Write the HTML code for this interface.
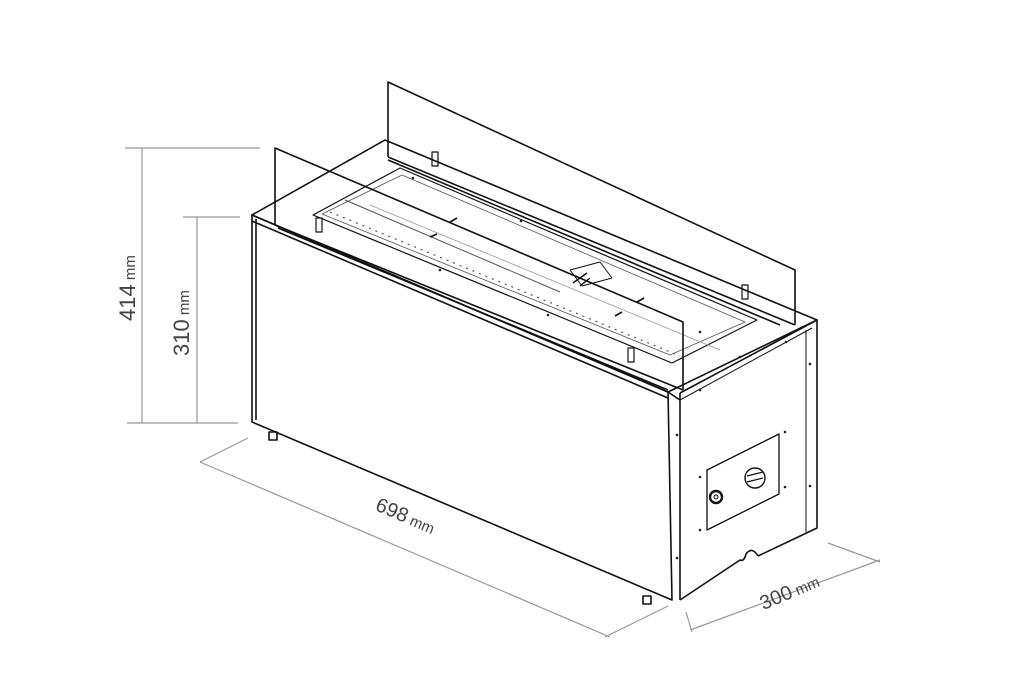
<!DOCTYPE html>
<html><head><style>
html,body{margin:0;padding:0;background:#fff;}
svg{display:block}
text{font-family:"Liberation Sans",sans-serif;fill:#444;}
</style></head><body>
<svg width="1024" height="700" viewBox="0 0 1024 700" xmlns="http://www.w3.org/2000/svg">
<g stroke="#999" stroke-width="1.2" fill="none">
<line x1="125" y1="148" x2="260" y2="148"/>
<line x1="127" y1="423" x2="238" y2="423"/>
<line x1="142" y1="148" x2="142" y2="423"/>
<line x1="183" y1="217" x2="240" y2="217"/>
<line x1="197" y1="217" x2="197" y2="423"/>
<line x1="200" y1="462" x2="248" y2="438"/>
<line x1="200" y1="462" x2="610" y2="637"/>
<line x1="605" y1="637" x2="668" y2="606"/>
<line x1="686" y1="612" x2="692" y2="632"/>
<line x1="690" y1="630" x2="880" y2="560"/>
<line x1="828" y1="543" x2="880" y2="562"/>
</g>
<text transform="translate(135,288) rotate(-90)" text-anchor="middle" font-size="22">414<tspan font-size="15"> mm</tspan></text>
<text transform="translate(189,323) rotate(-90)" text-anchor="middle" font-size="22">310<tspan font-size="15"> mm</tspan></text>
<text transform="translate(403,522) rotate(23)" text-anchor="middle" font-size="20">698<tspan font-size="15"> mm</tspan></text>
<text transform="translate(792,598) rotate(-23)" text-anchor="middle" font-size="20">300<tspan font-size="15"> mm</tspan></text>
<g stroke="#111" stroke-width="1.6" fill="none" stroke-linejoin="round">
<polyline points="388,157 388,82 795,270 795,325"/>
<line x1="388" y1="157" x2="795" y2="325"/>
<line x1="388" y1="160" x2="780" y2="325"/>
<polygon points="252,215 385,140 817,320 668,392"/>
<polygon points="252,215 668,392 672,600 252,422" />
<line x1="256" y1="219" x2="256" y2="420"/>
<line x1="252" y1="221" x2="668" y2="398"/>
<polyline points="680,393 817,320 817,528 758,556"/>
<path d="M758,556 q-6,-10 -12,-2 q-2,8 -6,6 L680,600"/>
<line x1="680" y1="393" x2="680" y2="600"/>
<line x1="806" y1="330" x2="806" y2="532" stroke-width="1"/>
<line x1="668" y1="392" x2="680" y2="400"/>
<line x1="680" y1="400" x2="812" y2="328" stroke-width="1"/>
<rect x="269" y="432" width="8" height="8"/>
<rect x="643" y="596" width="8" height="8"/>
<polygon points="313,215 400,168 757,320 672,363" stroke-width="1.2"/>
<polygon points="322,214 402,175 745,322 670,355" stroke-width="0.8" stroke="#555"/>
<line x1="330" y1="212" x2="680" y2="356" stroke-dasharray="2,5" stroke="#555" stroke-width="1.2"/>
<line x1="370" y1="205" x2="720" y2="350" stroke="#999" stroke-width="0.8"/>
<line x1="345" y1="200" x2="560" y2="292" stroke="#555" stroke-width="1"/>
<polygon points="570,270 600,262 612,278 582,286" stroke-width="1"/>
<path d="M573,283 l14,-10 M580,286 l10,-8" stroke-width="1.4"/>
<line x1="430" y1="237" x2="437" y2="234"/><line x1="450" y1="222" x2="457" y2="218"/>
<line x1="615" y1="316" x2="622" y2="312"/><line x1="637" y1="302" x2="644" y2="298"/>
<polyline points="275,225 275,148 683,322 683,390"/>
<line x1="275" y1="225" x2="683" y2="390"/>
<line x1="278" y1="228" x2="668" y2="390"/>
<rect x="432" y="152" width="6" height="14" stroke-width="1.2"/>
<rect x="742" y="285" width="6" height="14" stroke-width="1.2"/>
<rect x="316" y="218" width="6" height="14" stroke-width="1.2"/>
<rect x="628" y="348" width="6" height="14" stroke-width="1.2"/>
<polygon points="707,470 779,434 779,494 707,530" stroke-width="1.3"/>
<circle cx="755" cy="478" r="10" stroke-width="1.4"/>
<line x1="747" y1="476" x2="763" y2="472" stroke-width="1.3"/>
<line x1="747" y1="482" x2="763" y2="478" stroke-width="1.3"/>
<circle cx="716" cy="497" r="6" stroke-width="2.4"/>
<circle cx="716" cy="497" r="2" stroke-width="1"/>
</g>
<g fill="#222">
<circle cx="700" cy="477" r="1.3"/><circle cx="700" cy="530" r="1.3"/>
<circle cx="785" cy="432" r="1.3"/><circle cx="785" cy="487" r="1.3"/>
<circle cx="677" cy="435" r="1.3"/><circle cx="677" cy="558" r="1.3"/>
<circle cx="810" cy="364" r="1.3"/><circle cx="810" cy="486" r="1.3"/>
<circle cx="700" cy="390" r="1.3"/><circle cx="740" cy="357" r="1.3"/><circle cx="786" cy="342" r="1.3"/>
<circle cx="413" cy="178" r="1.3"/><circle cx="521" cy="221" r="1.3"/><circle cx="440" cy="270" r="1.3"/><circle cx="548" cy="315" r="1.3"/><circle cx="700" cy="332" r="1.3"/>
</g>
</svg>
</body></html>
